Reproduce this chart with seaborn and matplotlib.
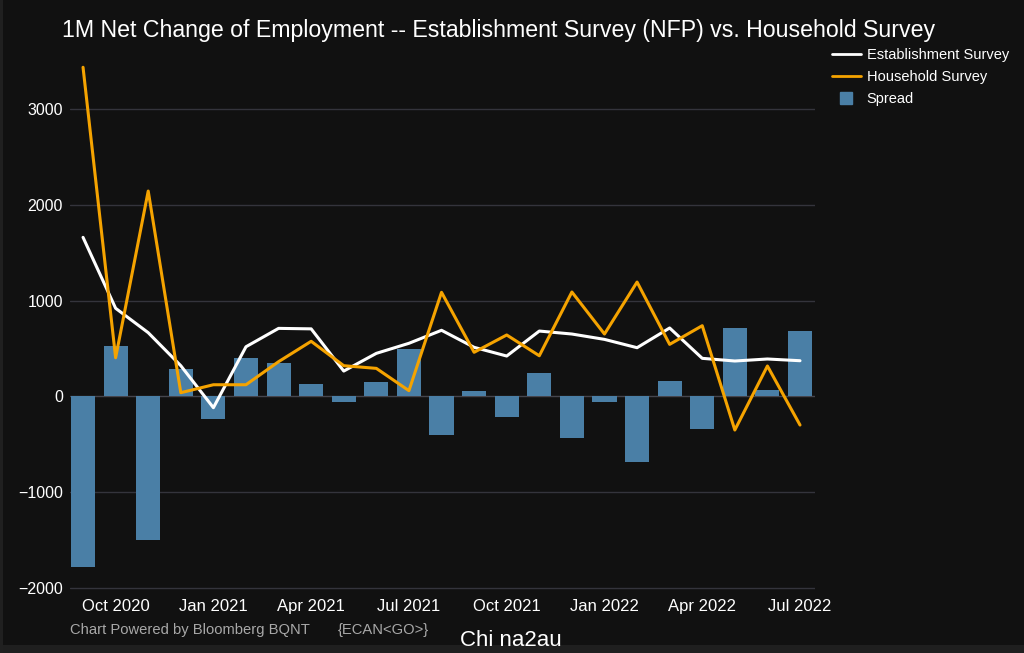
import numpy as np
import pandas as pd
import matplotlib
matplotlib.use("Agg")
import matplotlib.pyplot as plt
from matplotlib.lines import Line2D
from matplotlib.patches import Rectangle
import seaborn as sns

months = ["Sep 2020", "Oct 2020", "Nov 2020", "Dec 2020", "Jan 2021", "Feb 2021",
          "Mar 2021", "Apr 2021", "May 2021", "Jun 2021", "Jul 2021", "Aug 2021",
          "Sep 2021", "Oct 2021", "Nov 2021", "Dec 2021", "Jan 2022", "Feb 2022",
          "Mar 2022", "Apr 2022", "May 2022", "Jun 2022", "Jul 2022"]
establishment = [1661, 920, 665, 320, -119, 518, 710, 705, 264, 449, 554, 690,
                 512, 421, 682, 651, 595, 508, 714, 397, 369, 390, 372]
household = [3438, 403, 2145, 38, 121, 121, 362, 575, 320, 292, 59, 1087,
             460, 641, 424, 1090, 651, 1194, 543, 738, -352, 317, -300]
spread = [-1780, 522, -1498, 288, -234, 397, 348, 128, -60, 153, 494, -401,
          52, -213, 247, -439, -60, -690, 163, -338, 717, 63, 682]
tick_labels = ["Oct 2020", "Jan 2021", "Apr 2021", "Jul 2021",
               "Oct 2021", "Jan 2022", "Apr 2022", "Jul 2022"]
yticks = [-2000, -1000, 0, 1000, 2000, 3000]

BG = "#111111"
BAR = "#4a7fa6"
ORANGE = "#f5a300"
GRID = "#34343c"

sns.set_theme(style="dark")
plt.rcParams["font.family"] = ["Liberation Sans", "DejaVu Sans"]

df = pd.DataFrame({"month": months, "pos": np.arange(len(months)),
                   "Establishment Survey": establishment,
                   "Household Survey": household, "Spread": spread})

W, H = 1024, 653
fig = plt.figure(figsize=(W / 100, H / 100), dpi=100, facecolor=BG)
ax = fig.add_axes([70 / W, 1 - 595 / H, (815 - 70) / W, (595 - 45) / H])
ax.set_facecolor(BG)

for y in yticks:
    ax.axhline(y, color="#45454d" if y == 0 else GRID, lw=1.0, zorder=0)

sns.barplot(data=df, x="pos", y="Spread", native_scale=True, color=BAR,
            width=0.74, saturation=1, linewidth=0, edgecolor=BAR, ax=ax, zorder=2)
sns.lineplot(data=df, x="pos", y="Establishment Survey", color="white", lw=2.2,
             ax=ax, zorder=3)
sns.lineplot(data=df, x="pos", y="Household Survey", color=ORANGE, lw=2.2,
             ax=ax, zorder=4)

ax.set_xlim(-0.40, 22.46)
ax.set_ylim(-2076, 3671)
tick_pos = [months.index(t) for t in tick_labels]
ax.set_xticks(tick_pos)
ax.set_xticklabels(tick_labels)
ax.set_yticks(yticks)
ax.set_yticklabels([f"\u2212{abs(v)}" if v < 0 else str(v) for v in yticks])
ax.tick_params(axis="y", colors="white", labelsize=11.5, length=0, pad=5)
ax.tick_params(axis="x", colors="white", labelsize=12, length=0, pad=3)
ax.set_xlabel("")
ax.set_ylabel("")
ax.grid(False)
for s in ax.spines.values():
    s.set_visible(False)

fig.text(62 / W, 1 - 31 / H,
         "1M Net Change of Employment -- Establishment Survey (NFP) vs. Household Survey",
         color="white", fontsize=16.7, va="center", ha="left")

handles = [Line2D([0], [0], color="white", lw=2),
           Line2D([0], [0], color=ORANGE, lw=2),
           Line2D([0], [0], color=BAR, lw=0, marker="s", markersize=9)]
leg = fig.legend(handles, ["Establishment Survey", "Household Survey", "Spread"],
                 loc="upper left", bbox_to_anchor=(826 / W, 1 - 42 / H),
                 frameon=False, fontsize=10.5, labelcolor="white",
                 handlelength=2.0, handleheight=0.7, handletextpad=0.4,
                 labelspacing=0.55, borderaxespad=0)

fig.text(70 / W, 1 - 630 / H, "Chart Powered by Bloomberg BQNT", color="#a8a8a8",
         fontsize=10.6, va="center", ha="left")
fig.text(338 / W, 1 - 630 / H, "{ECAN<GO>}", color="#a8a8a8",
         fontsize=10.6, va="center", ha="left")
fig.text(460 / W, 1 - 640 / H, "Chi na2au", color="white",
         fontsize=16, va="center", ha="left")

fig.patches.append(Rectangle((0, 0), 1, 8 / H, transform=fig.transFigure,
                             facecolor="#1f1f1f", edgecolor="none", zorder=-1))
fig.patches.append(Rectangle((0, 0), 3 / W, 1, transform=fig.transFigure,
                             facecolor="#202020", edgecolor="none", zorder=-1))

fig.savefig("out.png", dpi=100, facecolor=BG)
